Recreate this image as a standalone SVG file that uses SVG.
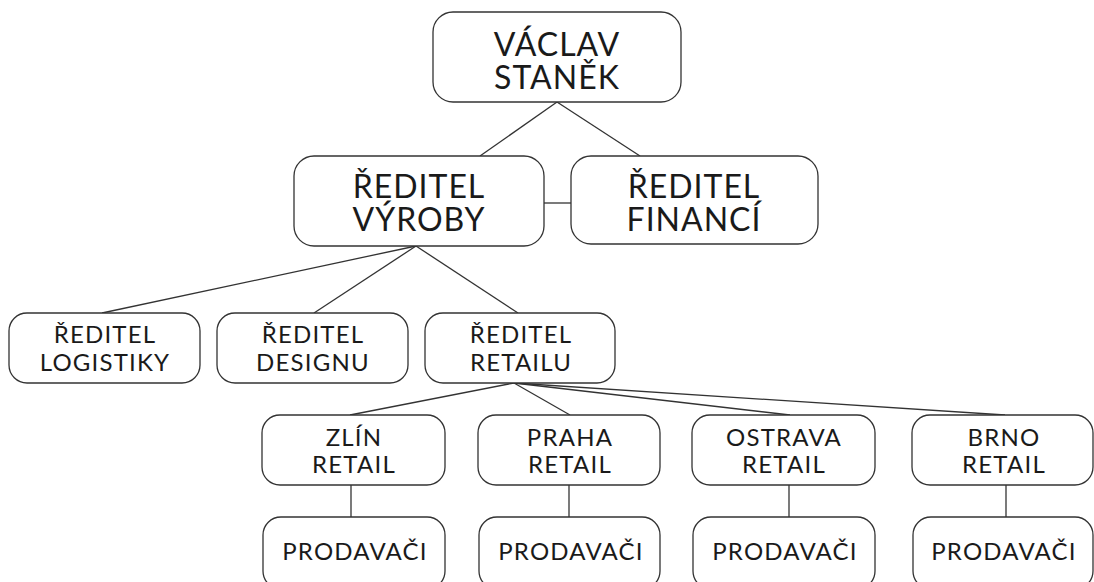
<svg xmlns="http://www.w3.org/2000/svg" width="1094" height="582" viewBox="0 0 1094 582">
<style>
.n{fill:#fff;stroke:#333;stroke-width:1.3}
.t{font-family:Lato,"Open Sans",sans-serif;font-weight:400;fill:#1a1a1a;text-anchor:middle}
.l{font-size:32px;letter-spacing:1px}
.m{font-size:24px;letter-spacing:1.2px}
.c{stroke:#333;stroke-width:1.3;fill:none}
</style>
<rect width="1094" height="582" fill="#fff"/>
<g id="connectors">
<line class="c" x1="557" y1="102" x2="480" y2="156"/>
<line class="c" x1="557" y1="102" x2="640" y2="156"/>
<line class="c" x1="544" y1="203" x2="571" y2="203"/>
<line class="c" x1="416" y1="246" x2="102" y2="313"/>
<line class="c" x1="416" y1="246" x2="314" y2="313"/>
<line class="c" x1="416" y1="246" x2="518" y2="313"/>
<line class="c" x1="514" y1="383" x2="350" y2="415"/>
<line class="c" x1="514" y1="383" x2="570" y2="415"/>
<line class="c" x1="514" y1="383" x2="790" y2="415"/>
<line class="c" x1="514" y1="383" x2="1005" y2="415"/>
<line class="c" x1="351" y1="485" x2="351" y2="517"/>
<line class="c" x1="569" y1="485" x2="569" y2="517"/>
<line class="c" x1="789" y1="485" x2="789" y2="517"/>
<line class="c" x1="1006" y1="485" x2="1006" y2="517"/>
</g>
<g id="n-stanek"><rect class="n" x="433" y="12" width="248" height="90" rx="20"/><text class="t l"><tspan x="557" y="56">VÁCLAV</tspan><tspan x="557" y="89">STANĚK</tspan></text></g>
<g id="n-vyroby"><rect class="n" x="294" y="156" width="250" height="90" rx="20"/><text class="t l"><tspan x="419" y="198">ŘEDITEL</tspan><tspan x="419" y="231">VÝROBY</tspan></text></g>
<g id="n-financi"><rect class="n" x="571" y="156" width="247" height="88" rx="20"/><text class="t l"><tspan x="694" y="198">ŘEDITEL</tspan><tspan x="694" y="231">FINANCÍ</tspan></text></g>
<g id="n-logistiky"><rect class="n" x="9" y="313" width="191" height="70" rx="18"/><text class="t m"><tspan x="105" y="343">ŘEDITEL</tspan><tspan x="105" y="371">LOGISTIKY</tspan></text></g>
<g id="n-designu"><rect class="n" x="217" y="313" width="191" height="70" rx="18"/><text class="t m"><tspan x="313" y="343">ŘEDITEL</tspan><tspan x="313" y="371">DESIGNU</tspan></text></g>
<g id="n-retailu"><rect class="n" x="425" y="313" width="190" height="70" rx="18"/><text class="t m"><tspan x="521" y="343">ŘEDITEL</tspan><tspan x="521" y="371">RETAILU</tspan></text></g>
<g id="n-zlin"><rect class="n" x="262" y="415" width="183" height="70" rx="18"/><text class="t m"><tspan x="354" y="446">ZLÍN</tspan><tspan x="354" y="473">RETAIL</tspan></text></g>
<g id="n-praha"><rect class="n" x="478" y="415" width="182" height="70" rx="18"/><text class="t m"><tspan x="570" y="446">PRAHA</tspan><tspan x="570" y="473">RETAIL</tspan></text></g>
<g id="n-ostrava"><rect class="n" x="692" y="415" width="183" height="70" rx="18"/><text class="t m"><tspan x="784" y="446">OSTRAVA</tspan><tspan x="784" y="473">RETAIL</tspan></text></g>
<g id="n-brno"><rect class="n" x="912" y="415" width="181" height="70" rx="18"/><text class="t m"><tspan x="1004" y="446">BRNO</tspan><tspan x="1004" y="473">RETAIL</tspan></text></g>
<g id="n-prod1"><rect class="n" x="263" y="517" width="182" height="72" rx="18"/><text class="t m" x="355" y="560">PRODAVAČI</text></g>
<g id="n-prod2"><rect class="n" x="479" y="517" width="181" height="72" rx="18"/><text class="t m" x="571" y="560">PRODAVAČI</text></g>
<g id="n-prod3"><rect class="n" x="693" y="517" width="182" height="72" rx="18"/><text class="t m" x="785" y="560">PRODAVAČI</text></g>
<g id="n-prod4"><rect class="n" x="913" y="517" width="180" height="72" rx="18"/><text class="t m" x="1004" y="560">PRODAVAČI</text></g>
</svg>
